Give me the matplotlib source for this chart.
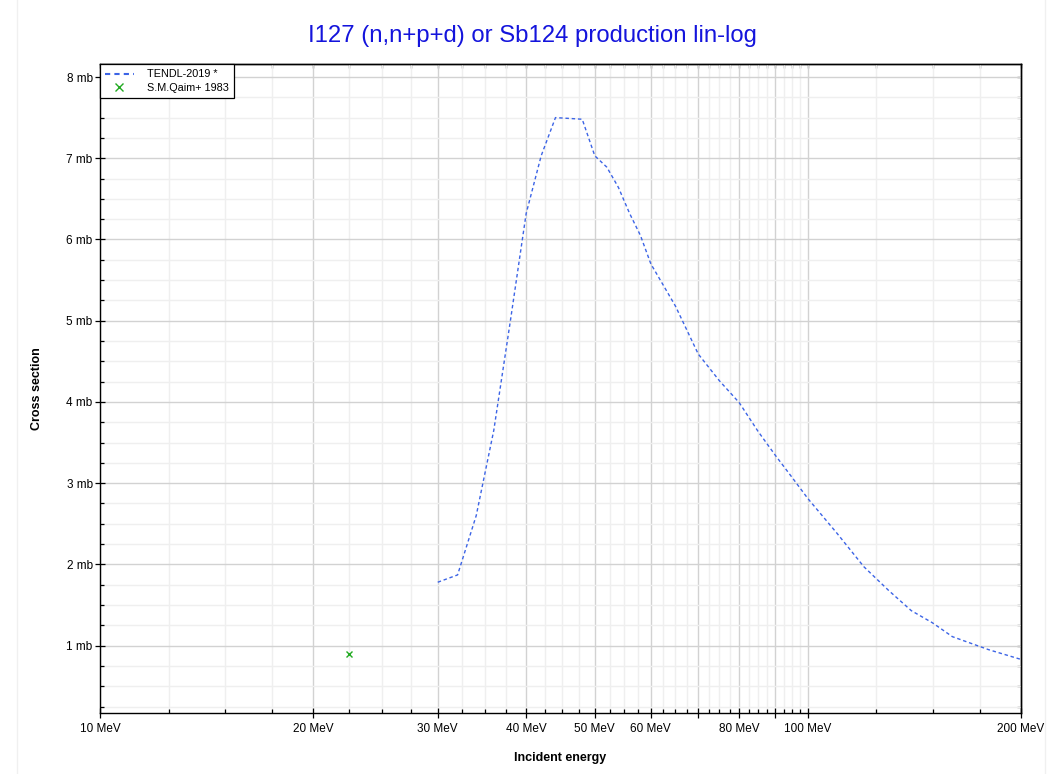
import matplotlib
matplotlib.use('Agg')
import matplotlib.pyplot as plt
from matplotlib.lines import Line2D
from matplotlib.ticker import FixedLocator, FixedFormatter, NullFormatter

plt.rcParams['font.family'] = ['Liberation Sans', 'DejaVu Sans']

# TENDL-2019 evaluation (MeV, mb)
tendl_e = [30, 32, 34, 36, 38, 40, 42, 44, 46, 48, 50, 52, 54, 56, 58, 60,
           65, 70, 75, 80, 85, 90, 95, 100, 110, 120, 130, 140, 150, 160, 180, 200]
tendl_xs = [1.78, 1.87, 2.60, 3.65, 5.00, 6.32, 7.03, 7.50, 7.49, 7.48, 7.03, 6.89,
            6.64, 6.32, 6.05, 5.70, 5.18, 4.59, 4.26, 3.99, 3.64, 3.34, 3.07, 2.81,
            2.38, 1.97, 1.68, 1.43, 1.28, 1.11, 0.95, 0.83]

# experimental point
qaim_e = [22.5]
qaim_xs = [0.90]

x_major = [10, 20, 30, 40, 50, 60, 70, 80, 90, 100, 200]
x_labels = ['10 MeV', '20 MeV', '30 MeV', '40 MeV', '50 MeV', '60 MeV', '',
            '80 MeV', '', '100 MeV', '200 MeV']
x_minor = [12.5, 15, 17.5, 22.5, 25, 27.5, 32.5, 35, 37.5, 42.5, 45, 47.5,
           52.5, 55, 57.5, 62.5, 65, 67.5, 72.5, 75, 77.5, 82.5, 85, 87.5,
           92.5, 95, 97.5, 125, 150, 175]
y_major = [1, 2, 3, 4, 5, 6, 7, 8]
y_labels = ['1 mb', '2 mb', '3 mb', '4 mb', '5 mb', '6 mb', '7 mb', '8 mb']
y_minor = [v / 4 for v in range(1, 33) if v % 4]

fig = plt.figure(figsize=(10.58, 7.74), dpi=100)
ax = fig.add_axes([0.0945, 0.0788, 0.8705, 0.8385])

ax.plot(tendl_e, tendl_xs, color='#3c64e6', lw=1.0, ls=(0, (2.5, 2)),
        label='TENDL-2019 *', zorder=3)
ax.plot(qaim_e, qaim_xs, ls='none', marker='x', ms=4.5, mew=1.0,
        color='#22aa22', label='S.M.Qaim+ 1983', zorder=4)

ax.set_xscale('log')
ax.set_xlim(10, 200)
ax.set_ylim(0.17, 8.16)

ax.xaxis.set_major_locator(FixedLocator(x_major))
ax.xaxis.set_major_formatter(FixedFormatter(x_labels))
ax.xaxis.set_minor_locator(FixedLocator(x_minor))
ax.xaxis.set_minor_formatter(NullFormatter())
ax.yaxis.set_major_locator(FixedLocator(y_major))
ax.yaxis.set_major_formatter(FixedFormatter(y_labels))
ax.yaxis.set_minor_locator(FixedLocator(y_minor))

ax.grid(which='major', color='#d2d2d2', lw=1.0, zorder=0)
ax.grid(which='minor', color='#efefef', lw=1.0, zorder=0)
ax.set_axisbelow(True)

ax.tick_params(which='major', direction='inout', length=6.5, width=0.9,
               labelsize=8.5, pad=4)
ax.tick_params(which='minor', direction='in', length=3, width=0.9)
ax.tick_params(axis='y', which='major', pad=2)
for s in ax.spines.values():
    s.set_linewidth(1.0)

# mirrored ticks on top / right, pointing inward only
top = ax.secondary_xaxis('top')
top.xaxis.set_major_locator(FixedLocator(x_major))
top.xaxis.set_minor_locator(FixedLocator(x_minor))
top.xaxis.set_major_formatter(NullFormatter())
top.xaxis.set_minor_formatter(NullFormatter())
top.tick_params(which='both', direction='in', length=3, width=0.9)
top.spines['top'].set_linewidth(1.0)
right = ax.secondary_yaxis('right')
right.yaxis.set_major_locator(FixedLocator(y_major))
right.yaxis.set_minor_locator(FixedLocator(y_minor))
right.yaxis.set_major_formatter(NullFormatter())
right.yaxis.set_minor_formatter(NullFormatter())
right.tick_params(which='both', direction='in', length=3, width=0.9)
right.spines['right'].set_linewidth(1.0)

ax.set_xlabel('Incident energy', fontsize=9, fontweight='bold')
ax.set_ylabel('Cross section', fontsize=9, fontweight='bold')
ax.xaxis.set_label_coords(0.5, -0.060)
ax.yaxis.set_label_coords(-0.062, 0.5)

fig.text(0.503, 0.953, 'I127 (n,n+p+d) or Sb124 production lin-log',
         ha='center', va='center', fontsize=17.2, color='#1414dc')

leg = ax.legend(loc='upper left', bbox_to_anchor=(0, 1), borderaxespad=0,
                fontsize=7.8, fancybox=False, framealpha=1, edgecolor='black',
                handlelength=2.6, handletextpad=1.2, borderpad=0.5,
                labelspacing=0.3, markerscale=1.4)
leg.get_frame().set_linewidth(0.9)
leg.get_lines()[0].set_linewidth(1.5)

# faint outer frame lines
fig.add_artist(Line2D([17 / 1058, 17 / 1058], [0, 1], color='#f0f0f0', lw=1))
fig.add_artist(Line2D([1045 / 1058, 1045 / 1058], [0, 1], color='#f0f0f0', lw=1))

fig.savefig('out.png', dpi=100)
